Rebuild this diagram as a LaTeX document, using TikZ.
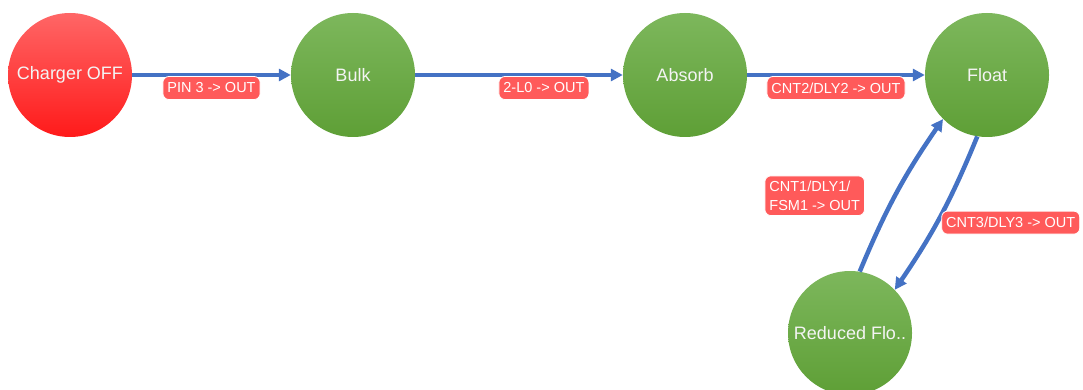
\documentclass[tikz,border=0pt]{standalone}
\usepackage{fontspec}
\setmainfont{Liberation Sans}
\usetikzlibrary{arrows.meta}
\definecolor{gtop}{HTML}{7DB75C}
\definecolor{gbot}{HTML}{5E9F36}
\definecolor{rtop}{HTML}{FF6666}
\definecolor{rbot}{HTML}{FF1A1A}
\definecolor{labred}{HTML}{FF5A5A}
\definecolor{edgeblue}{HTML}{4472C4}
\definecolor{txtw}{HTML}{F4F4F4}
\tikzset{
  state/.style={circle, minimum size=124pt, inner sep=0pt, top color=gtop, bottom color=gbot,
    text=txtw, font=\fontsize{18}{20}\selectfont},
  redstate/.style={state, top color=rtop, bottom color=rbot},
  conn/.style={draw=edgeblue, line width=4.5pt, -{Triangle[length=12pt,width=12pt]}},
  lab/.style={fill=labred, draw=white, line width=0.8pt, rounded corners=6pt, text=white,
    font=\fontsize{14.5}{19}\selectfont, inner xsep=4.5pt, inner ysep=3pt, minimum height=23pt}
}
\begin{document}
\begin{tikzpicture}[x=1pt,y=-1pt]
\useasboundingbox (0,0) rectangle (1083,390);
\node[redstate] (C) at (70,75) {Charger OFF};
\node[state] (B) at (353,75) {Bulk};
\node[state] (A) at (685,75) {Absorb};
\node[state] (F) at (987,75) {Float};
\node[state] (R) at (850,333) {Reduced Flo..};
\draw[conn] (C) -- node[lab, pos=0.5, yshift=-13pt] (l1) {PIN 3 -> OUT} (B);
\draw[conn] (B) -- node[lab, pos=0.62, yshift=-13pt] (l2) {2-L0 -> OUT} (A);
\draw[conn] (A) -- node[lab, pos=0.5, yshift=-13pt] (l3) {CNT2/DLY2 -> OUT} (F);
\draw[conn] (F.261) to[bend left=6] node[lab, pos=0.5, xshift=70pt, yshift=-7pt] (l4) {CNT3/DLY3 -> OUT} (R.44);
\draw[conn] (R.81) to[bend left=6] node[lab, pos=0.5, xshift=-82pt, yshift=-3pt, align=left, inner ysep=5pt] (l5) {CNT1/DLY1/\\FSM1 -> OUT} (F.225);
\end{tikzpicture}
\end{document}
